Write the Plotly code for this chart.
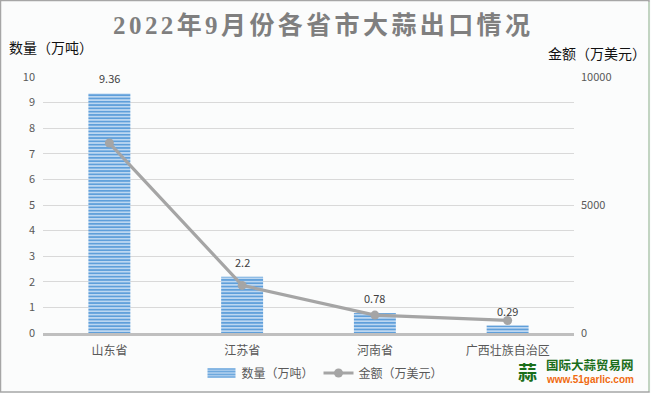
import plotly.graph_objects as go

categories = ["山东省", "江苏省", "河南省", "广西壮族自治区"]
quantity = [9.36, 2.2, 0.78, 0.29]
amount = [7420, 1860, 700, 490]
quantity_labels = ["9.36", "2.2", "0.78", "0.29"]
left_ticks = list(range(0, 11))
right_ticks = [0, 5000, 10000]
title_text = "2022年9月份各省市大蒜出口情况"
name_q = "数量（万吨）"
name_a = "金额（万美元）"

SANS = "'Microsoft YaHei','Noto Sans CJK SC',sans-serif"
W, H = 651, 393
ML, MR, MT, MB = 43, 77, 77, 60

fig = go.Figure()
fig.add_trace(go.Bar(
    x=categories, y=quantity, name=name_q, width=0.316,
    marker=dict(color="#cfe2f5", line=dict(width=0),
                pattern=dict(shape="-", fgcolor="#5f9fda", bgcolor="#c6def4",
                             size=3.3, solidity=0.55, fillmode="replace")),
))
fig.add_trace(go.Scatter(
    x=categories, y=amount, name=name_a, yaxis="y2", mode="lines+markers",
    line=dict(color="#a5a5a5", width=3.2),
    marker=dict(color="#a5a5a5", size=9),
))

def px(x): return (x - ML) / (W - ML - MR)
def py(y): return 1 - (y - MT) / (H - MT - MB)

ann = [
    dict(text=title_text, x=px(323), y=py(25), font=dict(size=25, color="#7f7f7f", family="'Liberation Serif','Noto Sans CJK SC',serif", weight="bold")),
    dict(text=name_q, x=px(51), y=py(47), font=dict(size=14, color="#111111", family=SANS)),
    dict(text=name_a, x=px(597), y=py(53), font=dict(size=14, color="#111111", family=SANS)),
    dict(text="国际大蒜贸易网", x=px(590), y=py(364.5), font=dict(size=12.5, color="#1a6e1a", family=SANS, weight="bold")),
    dict(text="www.51garlic.com", x=px(590), y=py(379.5), font=dict(size=10, color="#f06a10", family="'Liberation Sans',sans-serif", weight="bold")),
    dict(text="蒜", x=px(527), y=py(371), font=dict(size=19, color="#1a6e1a", family=SANS, weight="bold")),
]
for a in ann:
    a.update(xref="paper", yref="paper", showarrow=False, xanchor="center", yanchor="middle")
for c, q, t in zip(categories, quantity, quantity_labels):
    ann.append(dict(text=t, x=c, y=q, xref="x", yref="y", showarrow=False, yshift=15,
                    xanchor="center", yanchor="middle",
                    font=dict(size=11, color="#404040", family=SANS)))

fig.update_layout(
    width=W, height=H, autosize=False,
    margin=dict(l=ML, r=MR, t=MT, b=MB, autoexpand=False),
    paper_bgcolor="#fbfcfc", plot_bgcolor="#fbfcfc",
    font=dict(family=SANS, size=12, color="#595959"),
    annotations=ann,
    bargap=0.684,
    xaxis=dict(showline=True, linecolor="#bfbfbf", linewidth=2.5, ticks="", showgrid=False,
               tickfont=dict(size=12, color="#595959"), ticklabelstandoff=5, automargin=False),
    yaxis=dict(range=[0, 10], tickvals=left_ticks, gridcolor="#d9d9d9", gridwidth=1,
               zeroline=False, showline=False, ticks="", automargin=False,
               tickfont=dict(size=11, color="#595959"), ticklabelstandoff=7),
    yaxis2=dict(range=[0, 10000], tickvals=right_ticks, tickformat="d", overlaying="y", side="right",
                showgrid=False, zeroline=False, showline=False, ticks="", automargin=False,
                tickfont=dict(size=11, color="#595959"), ticklabelstandoff=6),
    legend=dict(orientation="h", x=325/W, y=1-373/H, xref="container", yref="container",
                xanchor="center", yanchor="middle",
                font=dict(size=12, color="#595959"), bgcolor="rgba(0,0,0,0)", itemwidth=30),
    shapes=[
        dict(type="rect", xref="paper", yref="paper", x0=px(0.5), x1=px(649), y0=py(392), y1=py(0.5),
             line=dict(color="#a6a6a6", width=1.5), fillcolor="rgba(0,0,0,0)", layer="above"),
        dict(type="line", xref="paper", yref="paper", x0=px(649), x1=px(649), y0=py(2), y1=py(391),
             line=dict(color="#c5dcc5", width=1.5), layer="above"),
    ],
    showlegend=True,
)
post = """
document.body.style.margin='0';
var t=document.querySelectorAll('.annotation-text')[0]; if(t){t.style.letterSpacing='3.4px';}
document.querySelectorAll('.legendbar path, .legendundefined').forEach(function(p){p.setAttribute('d','M14,5H-14V-5H14Z');});
"""
fig.write_html("out.html", post_script=post, config={"displayModeBar": False})
